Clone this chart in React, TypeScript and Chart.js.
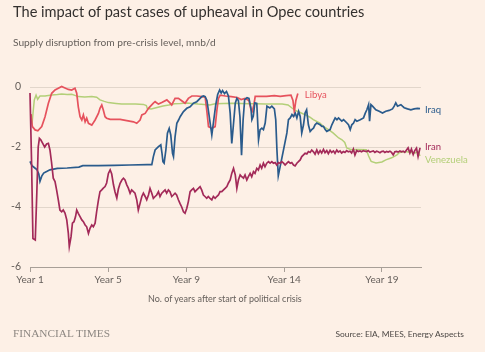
import React, { useEffect, useRef } from "react";
import { Chart, registerables } from "chart.js";
Chart.register(...registerables);

// ---- data (years after start of crisis, supply disruption mnb/d) ----
const yearTicks = [1, 5, 9, 14, 19];
const valueTicks = [-6, -4, -2, 0];

const libyaYears = [1.05, 1.12, 1.26, 1.4, 1.6, 1.77, 1.94, 2.11, 2.28, 2.45, 2.62, 2.79, 2.96, 3.13, 3.3, 3.39, 3.47, 3.56, 3.65, 3.73, 3.82, 3.9, 3.99, 4.16, 4.33, 4.5, 4.58, 4.67, 4.75, 4.84, 4.92, 5.1, 5.35, 5.61, 5.95, 6.29, 6.46, 6.63, 6.72, 6.89, 7.06, 7.31, 7.4, 7.57, 7.74, 8.0, 8.17, 8.25, 8.42, 8.59, 8.76, 8.93, 9.1, 9.28, 9.53, 9.79, 9.96, 10.04, 10.13, 10.3, 10.47, 10.56, 10.64, 10.73, 11.0, 11.3, 11.6, 11.8, 12.0, 12.2, 12.3, 12.37, 12.45, 12.52, 12.8, 13.1, 13.5, 13.8, 14.1, 14.35, 14.45, 14.52, 14.6, 14.7];
const libyaValues = [-0.9, -1.32, -1.43, -1.46, -1.32, -0.99, -0.54, -0.21, -0.1, -0.04, 0.02, -0.03, -0.08, -0.1, -0.04, -0.21, -0.66, -0.99, -1.1, -0.93, -1.16, -1.04, -1.21, -1.27, -1.1, -0.88, -0.71, -0.6, -0.77, -0.99, -1.04, -1.08, -1.08, -1.08, -1.12, -1.16, -1.21, -1.1, -0.93, -0.88, -0.71, -0.54, -0.49, -0.57, -0.52, -0.43, -0.54, -0.6, -0.38, -0.38, -0.46, -0.54, -0.38, -0.3, -0.3, -0.32, -0.34, -0.77, -1.32, -1.38, -1.32, -0.77, -0.38, -0.27, -0.3, -0.32, -0.35, -0.42, -0.38, -0.45, -0.75, -0.81, -0.6, -0.31, -0.31, -0.31, -0.29, -0.31, -0.29, -0.27, -0.45, -0.82, -0.45, -0.22];

const venezuelaYears = [1.1, 1.15, 1.22, 1.31, 1.39, 1.51, 1.77, 2.11, 2.4, 2.62, 2.9, 3.13, 3.3, 3.47, 3.8, 4.16, 4.41, 4.58, 4.8, 5.01, 5.4, 5.69, 6.0, 6.4, 6.8, 6.95, 7.0, 7.2, 7.5, 7.8, 8.1, 8.4, 8.7, 9.0, 9.3, 9.6, 9.9, 10.2, 10.47, 10.9, 11.32, 11.8, 12.18, 12.6, 13.03, 13.5, 13.9, 14.2, 14.4, 14.57, 14.82, 15.08, 15.3, 15.49, 15.83, 16.0, 16.27, 16.5, 16.79, 16.96, 17.1, 17.2, 17.4, 17.8, 18.2, 18.32, 18.45, 18.7, 19.0, 19.2, 19.5, 19.77, 19.9, 20.2, 20.5, 20.7, 20.85, 20.95];
const venezuelaValues = [-1.25, -0.9, -0.43, -0.27, -0.41, -0.3, -0.3, -0.27, -0.25, -0.23, -0.25, -0.24, -0.28, -0.32, -0.33, -0.32, -0.34, -0.43, -0.48, -0.52, -0.55, -0.57, -0.57, -0.57, -0.58, -0.62, -0.72, -0.73, -0.68, -0.63, -0.6, -0.56, -0.55, -0.53, -0.55, -0.57, -0.58, -0.6, -0.56, -0.55, -0.54, -0.55, -0.56, -0.56, -0.57, -0.57, -0.57, -0.6, -0.7, -0.78, -0.85, -0.93, -1.0, -1.09, -1.2, -1.31, -1.42, -1.53, -1.7, -1.76, -1.85, -2.03, -2.08, -2.08, -2.09, -2.3, -2.48, -2.53, -2.5, -2.43, -2.36, -2.26, -2.18, -2.15, -2.18, -2.2, -2.15, -2.3];

const iraqYears = [1.0, 1.1, 1.25, 1.35, 1.45, 1.51, 1.6, 1.7, 1.85, 2.02, 2.4, 2.9, 3.5, 3.7, 4.5, 5.3, 6.1, 7.0, 7.23, 7.31, 7.4, 7.57, 7.69, 7.75, 7.8, 7.86, 7.95, 8.03, 8.12, 8.2, 8.29, 8.34, 8.42, 8.51, 8.6, 8.68, 8.85, 9.02, 9.19, 9.36, 9.53, 9.7, 9.79, 9.88, 9.96, 10.05, 10.15, 10.3, 10.4, 10.5, 10.6, 10.7, 10.78, 10.85, 10.95, 11.05, 11.15, 11.24, 11.32, 11.4, 11.5, 11.58, 11.66, 11.74, 11.82, 11.9, 11.98, 12.1, 12.2, 12.3, 12.35, 12.42, 12.5, 12.6, 12.69, 12.77, 12.86, 12.94, 13.03, 13.12, 13.27, 13.37, 13.5, 13.57, 13.63, 13.7, 13.8, 13.97, 14.14, 14.22, 14.31, 14.4, 14.48, 14.57, 14.65, 14.74, 14.82, 14.9, 14.99, 15.07, 15.15, 15.24, 15.33, 15.41, 15.5, 15.58, 15.67, 15.84, 15.93, 16.01, 16.1, 16.18, 16.35, 16.44, 16.53, 16.61, 16.7, 16.78, 16.87, 16.95, 17.04, 17.21, 17.29, 17.38, 17.46, 17.55, 17.63, 17.72, 17.89, 18.06, 18.15, 18.23, 18.32, 18.37, 18.44, 18.52, 18.69, 18.86, 19.03, 19.2, 19.37, 19.54, 19.63, 19.71, 19.8, 19.97, 20.05, 20.14, 20.31, 20.48, 20.65, 20.82, 20.95];
const iraqValues = [-2.48, -2.62, -2.7, -2.75, -2.9, -3.14, -2.97, -2.87, -2.82, -2.76, -2.71, -2.7, -2.67, -2.62, -2.62, -2.61, -2.6, -2.59, -2.59, -2.32, -2.1, -1.99, -1.93, -2.2, -2.49, -2.54, -2.1, -1.54, -1.38, -1.6, -2.21, -2.32, -1.66, -1.21, -1.1, -0.99, -0.82, -0.71, -0.66, -0.54, -0.49, -0.38, -0.32, -0.3, -0.32, -0.45, -0.9, -1.6, -1.1, -0.6, -0.25, -0.1, -0.2, -0.12, -0.22, -0.15, -0.3, -0.88, -1.88, -1.3, -0.54, -0.38, -0.45, -1.0, -2.27, -1.1, -0.42, -0.36, -0.38, -0.7, -1.09, -0.98, -0.53, -0.55, -1.76, -1.42, -1.37, -1.42, -1.2, -0.64, -0.7, -0.64, -0.73, -1.09, -2.09, -2.96, -2.64, -2.09, -1.53, -1.09, -1.03, -0.92, -0.98, -0.87, -1.03, -0.81, -0.98, -1.53, -1.26, -0.87, -0.76, -1.26, -1.48, -1.42, -1.37, -1.26, -1.2, -1.26, -1.31, -1.31, -1.42, -1.48, -1.42, -1.26, -1.14, -1.03, -1.09, -1.03, -1.09, -1.14, -1.09, -1.2, -1.26, -1.42, -1.26, -1.2, -1.09, -1.14, -1.09, -1.03, -0.87, -0.76, -0.59, -1.14, -0.59, -0.64, -0.76, -0.81, -0.87, -0.81, -0.78, -0.73, -0.64, -0.53, -0.64, -0.59, -0.64, -0.69, -0.73, -0.76, -0.73, -0.71, -0.72];

const iranYears = [1.0, 1.08, 1.15, 1.27, 1.35, 1.42, 1.48, 1.55, 1.65, 1.75, 1.85, 1.94, 2.02, 2.1, 2.19, 2.28, 2.36, 2.45, 2.53, 2.62, 2.7, 2.79, 2.88, 2.96, 3.01, 3.1, 3.17, 3.25, 3.33, 3.39, 3.47, 3.56, 3.65, 3.73, 3.82, 3.9, 3.99, 4.07, 4.16, 4.24, 4.33, 4.41, 4.5, 4.58, 4.67, 4.75, 4.84, 4.92, 5.01, 5.1, 5.18, 5.27, 5.35, 5.44, 5.52, 5.61, 5.7, 5.78, 5.86, 5.95, 6.03, 6.12, 6.2, 6.29, 6.37, 6.46, 6.54, 6.63, 6.72, 6.8, 6.89, 6.97, 7.06, 7.14, 7.23, 7.31, 7.4, 7.48, 7.57, 7.65, 7.74, 7.82, 7.91, 7.99, 8.08, 8.16, 8.25, 8.33, 8.42, 8.5, 8.59, 8.67, 8.76, 8.85, 8.93, 9.02, 9.1, 9.19, 9.27, 9.36, 9.44, 9.53, 9.61, 9.7, 9.78, 9.87, 9.95, 10.04, 10.12, 10.21, 10.3, 10.38, 10.47, 10.55, 10.64, 10.72, 10.81, 10.9, 10.98, 11.07, 11.15, 11.24, 11.32, 11.41, 11.5, 11.58, 11.66, 11.75, 11.83, 11.92, 12.0, 12.09, 12.17, 12.26, 12.34, 12.43, 12.51, 12.6, 12.68, 12.77, 12.85, 12.94, 13.02, 13.11, 13.2, 13.28, 13.37, 13.45, 13.54, 13.62, 13.71, 13.8, 13.88, 13.97, 14.05, 14.14, 14.22, 14.31, 14.39, 14.48, 14.56, 14.65, 14.73, 14.82, 14.9, 14.99, 15.07, 15.16, 15.24, 15.33, 15.41, 15.5, 15.58, 15.67, 15.75, 15.84, 15.92, 16.01, 16.09, 16.18, 16.26, 16.35, 16.43, 16.52, 16.6, 16.69, 16.77, 16.86, 16.94, 17.03, 17.11, 17.2, 17.28, 17.37, 17.45, 17.54, 17.62, 17.71, 17.79, 17.88, 17.96, 18.05, 18.13, 18.22, 18.3, 18.39, 18.47, 18.56, 18.64, 18.73, 18.81, 18.9, 18.98, 19.07, 19.15, 19.24, 19.32, 19.41, 19.49, 19.58, 19.66, 19.75, 19.83, 19.92, 20.0, 20.09, 20.17, 20.26, 20.34, 20.43, 20.51, 20.6, 20.68, 20.77, 20.85, 20.95];
const iranValues = [-0.2, -2.5, -5.05, -5.1, -3.5, -2.0, -1.71, -1.76, -1.88, -2.0, -1.9, -1.88, -2.1, -2.5, -3.04, -3.15, -3.43, -3.77, -4.1, -4.16, -4.1, -4.2, -4.43, -4.87, -5.32, -4.99, -4.54, -4.49, -4.32, -4.1, -4.21, -4.32, -4.43, -4.49, -4.6, -4.66, -4.88, -4.71, -4.6, -4.66, -4.54, -4.15, -3.77, -3.49, -3.43, -3.37, -3.32, -3.2, -2.88, -2.76, -2.9, -3.26, -3.5, -3.7, -3.4, -3.21, -3.1, -3.04, -3.1, -3.26, -3.37, -3.54, -3.43, -3.49, -3.54, -3.76, -4.1, -3.88, -3.65, -3.54, -3.65, -3.76, -3.6, -3.38, -3.54, -3.71, -3.65, -3.6, -3.49, -3.65, -3.54, -3.49, -3.43, -3.54, -3.43, -3.49, -3.65, -3.6, -3.54, -3.6, -3.76, -3.88, -4.0, -4.16, -4.21, -4.04, -3.82, -3.49, -3.43, -3.38, -3.49, -3.43, -3.38, -3.32, -3.43, -3.6, -3.65, -3.71, -3.65, -3.71, -3.76, -3.65, -3.71, -3.65, -3.6, -3.49, -3.49, -3.43, -3.38, -3.32, -3.2, -3.1, -2.88, -2.71, -2.93, -3.38, -3.1, -2.93, -2.99, -3.04, -2.93, -3.1, -2.99, -2.88, -2.99, -2.82, -2.88, -2.71, -2.77, -2.6, -2.71, -2.54, -2.66, -2.54, -2.49, -2.54, -2.49, -2.54, -2.52, -2.6, -2.52, -2.54, -2.49, -2.54, -2.6, -2.54, -2.49, -2.54, -2.52, -2.6, -2.63, -2.54, -2.49, -2.43, -2.32, -2.26, -2.21, -2.23, -2.15, -2.18, -2.1, -2.16, -2.24, -2.1, -2.22, -2.12, -2.2, -2.08, -2.19, -2.12, -2.22, -2.11, -2.18, -2.13, -2.21, -2.1, -2.17, -2.13, -2.2, -2.15, -2.18, -2.12, -2.16, -2.14, -2.2, -2.07, -2.27, -2.12, -2.15, -2.13, -2.16, -2.12, -2.14, -2.15, -2.12, -2.17, -2.15, -2.13, -2.18, -2.14, -2.16, -2.19, -2.15, -2.14, -2.18, -2.15, -2.17, -2.14, -2.18, -2.26, -2.16, -2.15, -2.17, -2.13, -2.16, -2.14, -2.18, -2.1, -2.03, -2.2, -2.07, -2.25, -2.12, -2.04, -2.32, -2.03];

const seriesNames = ["Iran", "Iraq", "Libya", "Venezuela"];
const seriesColors = ["#a32a59", "#2a5b8c", "#e6525d", "#b3cf78"];
const labelOffsets = [
  { dx: 5, dy: -1 },
  { dx: 5, dy: 1 },
  { dx: 7, dy: 1 },
  { dx: 5, dy: 4 },
];

const toPoints = (xs: number[], ys: number[]) => xs.map((x, i) => ({ x, y: ys[i] }));

const endLabels = {
  id: "endLabels",
  afterDatasetsDraw(chart: any) {
    const ctx = chart.ctx;
    chart.data.datasets.forEach((ds: any, i: number) => {
      const meta = chart.getDatasetMeta(i);
      const last = meta.data[meta.data.length - 1];
      const off = labelOffsets[i];
      ctx.save();
      ctx.fillStyle = ds.borderColor;
      ctx.font = "9.5px Lato, sans-serif";
      ctx.textBaseline = "middle";
      ctx.textAlign = "left";
      ctx.fillText(ds.label, last.x + off.dx, last.y + off.dy);
      ctx.restore();
    });
  },
};

export default function App() {
  const ref = useRef<HTMLCanvasElement>(null);
  useEffect(() => {
    document.body.style.margin = "0";
    const seriesData = [
      toPoints(iranYears, iranValues),
      toPoints(iraqYears, iraqValues),
      toPoints(libyaYears, libyaValues),
      toPoints(venezuelaYears, venezuelaValues),
    ];
    const chart = new Chart(ref.current!, {
      type: "line",
      data: {
        datasets: seriesNames.map((name, i) => ({
          label: name,
          data: seriesData[i],
          borderColor: seriesColors[i],
          borderWidth: i === 3 ? 1.5 : 1.7,
          pointRadius: 0,
          tension: 0,
          fill: false,
          clip: false as any,
        })),
      },
      options: {
        responsive: false,
        animation: false,
        events: [],
        layout: { padding: { top: 87, left: 0, right: 64, bottom: 60 } },
        plugins: { legend: { display: false }, tooltip: { enabled: false } },
        scales: {
          x: {
            type: "linear",
            min: 1,
            max: 21,
            afterBuildTicks: (s: any) => {
              s.ticks = yearTicks.map((v) => ({ value: v }));
            },
            afterFit: (s: any) => {
              s.height = 25;
            },
            ticks: {
              autoSkip: false,
              maxRotation: 0,
              padding: 2,
              color: "#66605c",
              font: { family: "Lato, sans-serif", size: 10 },
              callback: (v: any) => "Year " + v,
            },
            grid: { drawOnChartArea: false, drawTicks: true, tickLength: 5, color: "#a89f97" },
            border: { display: true, color: "#a89f97" },
          },
          y: {
            min: -6,
            max: 0,
            afterBuildTicks: (s: any) => {
              s.ticks = valueTicks.map((v) => ({ value: v }));
            },
            afterFit: (s: any) => {
              s.width = 30;
            },
            ticks: {
              padding: 9,
              color: "#66605c",
              font: { family: "Lato, sans-serif", size: 10.5 },
              callback: (v: any) => String(v),
            },
            grid: {
              drawTicks: false,
              color: (c: any) => (c.tick && c.tick.value === -6 ? "#a89f97" : "#e2d6cb"),
            },
            border: { display: false },
          },
        },
      },
      plugins: [endLabels],
    });
    return () => chart.destroy();
  }, []);

  return (
    <div
      style={{
        position: "relative",
        width: 485,
        height: 352,
        background: "#fdf0e6",
        overflow: "hidden",
        fontFamily: "Lato, sans-serif",
      }}
    >
      <canvas ref={ref} width={485} height={352} style={{ position: "absolute", left: 0, top: 0 }} />
      <div style={{ position: "absolute", left: 13, top: 3, fontSize: 14.6, lineHeight: "18px", color: "#33302e", whiteSpace: "nowrap" }}>
        The impact of past cases of upheaval in Opec countries
      </div>
      <div style={{ position: "absolute", left: 13, top: 35, fontSize: 10.2, lineHeight: "14px", color: "#66605c", whiteSpace: "nowrap" }}>
        Supply disruption from pre-crisis level, mnb/d
      </div>
      <div style={{ position: "absolute", left: 148, top: 292, fontSize: 9, lineHeight: "14px", color: "#66605c", whiteSpace: "nowrap" }}>
        No. of years after start of political crisis
      </div>
      <div style={{ position: "absolute", left: 13, top: 325, fontSize: 11.3, lineHeight: "16px", color: "#8d8782", fontFamily: "'Liberation Serif', 'DejaVu Serif', serif", whiteSpace: "nowrap" }}>
        FINANCIAL TIMES
      </div>
      <div style={{ position: "absolute", right: 21, top: 327, fontSize: 8.4, lineHeight: "14px", color: "#4d4845", whiteSpace: "nowrap" }}>
        Source: EIA, MEES, Energy Aspects
      </div>
    </div>
  );
}
